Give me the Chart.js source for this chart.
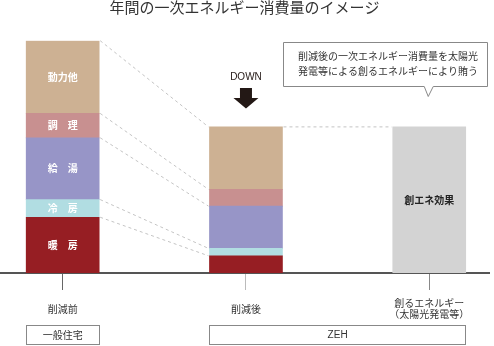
<!DOCTYPE html>
<html>
<head>
<meta charset="utf-8">
<script src="https://cdn.jsdelivr.net/npm/chart.js@4/dist/chart.umd.min.js"></script>
<style>
  html, body { margin: 0; padding: 0; background: #fff; }
  #wrap { width: 494px; height: 346px; }
</style>
</head>
<body>
<div id="wrap"><canvas id="myChart" width="494" height="346"></canvas></div>
<script>
// categories on the x axis
const categories = ['削減前', '削減後', ['創るエネルギー', '（太陽光発電等）']];
const groups = ['一般住宅', 'ZEH'];

// energy use (before / after), relative, before total = 100
const heating  = [24.0, 7.4];   // 暖房
const cooling  = [7.6, 3.2];    // 冷房
const hotWater = [26.6, 18.2];  // 給湯
const cooking  = [10.5, 7.2];   // 調理
const other    = [31.3, 26.9];  // 動力他
const creation = [62.9];        // 創エネ効果

const useNames  = ['暖　房', '冷　房', '給　湯', '調　理', '動力他'];
const useColors = ['#961e23', '#b1dde2', '#9795c7', '#c89090', '#cdb193'];
const tickColors = ['#666', '#bbb', '#888'];

const jp = "'Noto Sans CJK JP', 'Noto Sans', sans-serif";
Chart.defaults.font.family = jp;

function pts(arr, start){
    return arr.map(function(v, i){ return {x: start + i, y: v}; });
}

var datasets = [heating, cooling, hotWater, cooking, other].map(function(arr, i){
    return {
        label: useNames[i],
        data: pts(arr, 0),
        backgroundColor: useColors[i],
        borderWidth: 0,
        barThickness: 73
    };
});
datasets.push({
    label: '創エネ効果',
    data: pts(creation, 2),
    backgroundColor: '#d3d3d3',
    borderWidth: 0,
    barThickness: 73
});

// extra drawing: dashed guides, segment labels, arrow, callout, group boxes
const overlay = {
    id: 'overlay',
    afterDatasetsDraw(chart){
        const c = chart.ctx;
        const xs = chart.scales.x;
        const half = 73 / 2;

        // dashed guide lines between bars
        c.save();
        c.strokeStyle = '#c4c4c4';
        c.lineWidth = 1;
        c.setLineDash([3, 3]);
        for (let i = 0; i < 5; i++) {
            const m = chart.getDatasetMeta(i).data;
            c.beginPath();
            c.moveTo(m[0].x + half + 1, m[0].y);
            c.lineTo(m[1].x - half - 1, m[1].y);
            c.stroke();
        }
        const top2 = chart.getDatasetMeta(4).data[1];
        const top3 = chart.getDatasetMeta(5).data[0];
        c.beginPath();
        c.moveTo(top2.x + half + 1, top2.y);
        c.lineTo(top3.x - half - 1, top3.y);
        c.stroke();
        c.restore();

        // labels on segments
        c.save();
        c.textAlign = 'center';
        c.textBaseline = 'middle';
        c.font = 'bold 10px ' + jp;
        c.fillStyle = '#fff';
        for (let i = 0; i < 5; i++) {
            const el = chart.getDatasetMeta(i).data[0];
            c.fillText(useNames[i], el.x, (el.y + el.base) / 2);
        }
        c.fillStyle = '#222';
        c.fillText('創エネ効果', top3.x, (top3.y + top3.base) / 2);
        c.restore();

        // DOWN arrow
        const ax = xs.getPixelForValue(1);
        c.save();
        c.fillStyle = '#231815';
        c.font = '10px "Liberation Sans", Arial, sans-serif';
        c.textAlign = 'center';
        c.textBaseline = 'middle';
        c.fillText('DOWN', ax, 77);
        c.beginPath();
        c.moveTo(ax - 6, 88);
        c.lineTo(ax + 6, 88);
        c.lineTo(ax + 6, 98);
        c.lineTo(ax + 12.5, 98);
        c.lineTo(ax, 108.5);
        c.lineTo(ax - 12.5, 98);
        c.lineTo(ax - 6, 98);
        c.closePath();
        c.fill();
        c.restore();

        // callout
        const tip = xs.getPixelForValue(2) - 1;
        c.save();
        c.strokeStyle = '#888';
        c.fillStyle = '#fff';
        c.lineWidth = 1;
        c.beginPath();
        c.moveTo(283.5, 42.5);
        c.lineTo(487.5, 42.5);
        c.lineTo(487.5, 86.5);
        c.lineTo(tip + 5, 86.5);
        c.lineTo(tip, 96.5);
        c.lineTo(tip - 4, 86.5);
        c.lineTo(283.5, 86.5);
        c.closePath();
        c.fill();
        c.stroke();
        c.fillStyle = '#333';
        c.font = '10px ' + jp;
        c.textAlign = 'center';
        c.textBaseline = 'middle';
        c.fillText('削減後の一次エネルギー消費量を太陽光', 388, 56);
        c.fillText('発電等による創るエネルギーにより賄う', 388, 71.5);
        c.restore();

        // group boxes under the axis
        c.save();
        c.strokeStyle = '#888';
        c.lineWidth = 1;
        c.fillStyle = '#333';
        c.textAlign = 'center';
        c.textBaseline = 'middle';
        const b1l = xs.getPixelForValue(0) - half, b1r = xs.getPixelForValue(0) + half;
        const b2l = xs.getPixelForValue(1) - half, b2r = xs.getPixelForValue(2) + half;
        c.strokeRect(Math.round(b1l) + 0.5, 325.5, Math.round(b1r - b1l), 19);
        c.strokeRect(Math.round(b2l) + 0.5, 325.5, Math.round(b2r - b2l), 19);
        c.font = '10px ' + jp;
        c.fillText(groups[0], (b1l + b1r) / 2, 335.5);
        c.font = '10px "Liberation Sans", Arial, sans-serif';
        c.fillText(groups[1], (b2l + b2r) / 2, 335.5);
        c.restore();
    }
};

const ctx = document.getElementById('myChart');

new Chart(ctx, {
    type: 'bar',
    data: { datasets: datasets },
    options: {
        responsive: false,
        animation: false,
        layout: { padding: { left: 0, right: 5, top: 0, bottom: 0 } },
        plugins: {
            legend: { display: false },
            tooltip: { enabled: false },
            title: {
                display: true,
                text: '年間の一次エネルギー消費量のイメージ',
                color: '#333',
                font: { size: 15, weight: 'normal', lineHeight: 1 },
                padding: { top: 0, bottom: 25.7 }
            }
        },
        scales: {
            x: {
                type: 'linear',
                min: -0.342,
                max: 2.326,
                stacked: true,
                offset: false,
                afterBuildTicks: function(s){
                    s.ticks = categories.map(function(c, i){ return {value: i}; });
                },
                afterFit: function(s){ s.height = 73; },
                grid: {
                    offset: false,
                    drawOnChartArea: false,
                    drawTicks: true,
                    tickLength: 17,
                    tickWidth: 1,
                    tickColor: tickColors
                },
                border: { display: true, color: '#555', width: 2 },
                ticks: {
                    callback: function(v){ return categories[v]; },
                    color: '#333',
                    font: { size: 10, lineHeight: 1.15 },
                    padding: 13,
                    crossAlign: 'center',
                    maxRotation: 0,
                    autoSkip: false
                }
            },
            y: {
                stacked: true,
                min: 0,
                max: 100,
                display: false
            }
        }
    },
    plugins: [overlay]
});
</script>
</body>
</html>
